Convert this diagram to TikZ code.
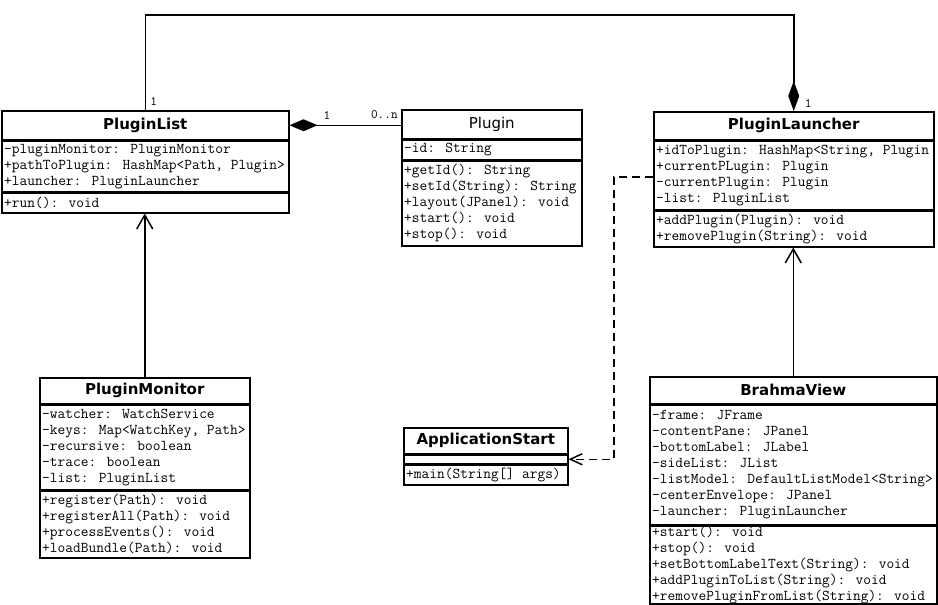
\documentclass[tikz,border=0pt]{standalone}
\usepackage{fontspec}
\setmainfont{DejaVu Sans}
\usetikzlibrary{arrows.meta}

\begin{document}
\begin{tikzpicture}[x=1pt, y=-1pt,
        every text node part/.style={align=left},
        box/.style={draw, line width=1.5pt, inner sep=0pt, anchor=north west},
        title/.style={font=\fontsize{15}{17}\selectfont\bfseries},
        rows/.style={anchor=west, inner sep=0pt, font=\fontsize{15}{16}\selectfont\ttfamily},
        mult/.style={inner sep=0pt, font=\fontsize{13}{13}\selectfont\ttfamily},
        link/.style={line width=1.5pt}]
    \useasboundingbox (0,0) rectangle (938,605);

    % PluginList
    \node[box, title, minimum width=287pt, minimum height=29pt] (pl) at (1,110) {PluginList};
    \node[box, minimum width=287pt, minimum height=50pt] (pl-a) at (pl.south west) {};
    \node[box, minimum width=287pt, minimum height=20pt] (pl-m) at (pl-a.south west) {};
    \node[rows] (pl-at) at ([xshift=3pt]pl-a.west) {-pluginMonitor: PluginMonitor\\+pathToPlugin: HashMap<Path, Plugin>\\+launcher: PluginLauncher};
    \node[rows] (pl-mt) at ([xshift=3pt]pl-m.west) {+run(): void};

    % Plugin
    \node[box, font=\fontsize{15}{17}\selectfont, minimum width=180pt, minimum height=29pt] (pg) at (401,109) {Plugin};
    \node[box, minimum width=180pt, minimum height=19pt] (pg-a) at (pg.south west) {};
    \node[box, minimum width=180pt, minimum height=85pt] (pg-m) at (pg-a.south west) {};
    \node[rows] (pg-at) at ([xshift=3pt]pg-a.west) {-id: String};
    \node[rows] (pg-mt) at ([xshift=3pt]pg-m.west) {+getId(): String\\+setId(String): String\\+layout(JPanel): void\\+start(): void\\+stop(): void};

    % PluginLauncher
    \node[box, title, minimum width=280pt, minimum height=28pt] (la) at (653,111) {PluginLauncher};
    \node[box, minimum width=280pt, minimum height=68pt] (la-a) at (la.south west) {};
    \node[box, minimum width=280pt, minimum height=36pt] (la-m) at (la-a.south west) {};
    \node[rows] (la-at) at ([xshift=3pt]la-a.west) {+idToPlugin: HashMap<String, Plugin\\+currentPLugin: Plugin\\-currentPlugin: Plugin\\-list: PluginList};
    \node[rows] (la-mt) at ([xshift=3pt]la-m.west) {+addPlugin(Plugin): void\\+removePlugin(String): void};

    % PluginMonitor
    \node[box, title, minimum width=210pt, minimum height=26pt] (pm) at (39,377) {PluginMonitor};
    \node[box, minimum width=210pt, minimum height=84pt] (pm-a) at (pm.south west) {};
    \node[box, minimum width=210pt, minimum height=67pt] (pm-m) at (pm-a.south west) {};
    \node[rows] (pm-at) at ([xshift=3pt]pm-a.west) {-watcher: WatchService\\-keys: Map<WatchKey, Path>\\-recursive: boolean\\-trace: boolean\\-list: PluginList};
    \node[rows] (pm-mt) at ([xshift=3pt]pm-m.west) {+register(Path): void\\+registerAll(Path): void\\+processEvents(): void\\+loadBundle(Path): void};

    % ApplicationStart
    \node[box, title, minimum width=164pt, minimum height=26pt] (as) at (403,427) {ApplicationStart};
    \node[box, minimum width=164pt, minimum height=8pt] (as-a) at (as.south west) {};
    \node[box, minimum width=164pt, minimum height=20pt] (as-m) at (as-a.south west) {};
    \node[rows] (as-mt) at ([xshift=3pt]as-m.west) {+main(String[] args)};

    % BrahmaView
    \node[box, title, minimum width=287pt, minimum height=27pt] (bv) at (649,376) {BrahmaView};
    \node[box, minimum width=287pt, minimum height=119pt] (bv-a) at (bv.south west) {};
    \node[box, minimum width=287pt, minimum height=78pt] (bv-m) at (bv-a.south west) {};
    \node[rows] (bv-at) at ([xshift=3pt]bv-a.west) {-frame: JFrame\\-contentPane: JPanel\\-bottomLabel: JLabel\\-sideList: JList\\-listModel: DefaultListModel<String>\\-centerEnvelope: JPanel\\-launcher: PluginLauncher};
    \node[rows] (bv-mt) at ([xshift=3pt]bv-m.west) {+start(): void\\+stop(): void\\+setBottomLabelText(String): void\\+addPluginToList(String): void\\+removePluginFromList(String): void};

    % connectors
    \coordinate (top) at (0,15);
    \coordinate (dep) at (614,177);
    \draw[link, -{Diamond[length=30pt, width=11pt]}] (pl.north) -- (pl.north |- top) -| (la.north);
    \draw[link, {Diamond[length=28pt, width=12pt]}-] (pl.east) -- (pl.east -| pg.west);
    \draw[link, -{Straight Barb[length=14pt, width=16pt]}] (pm.north) -- (pm.north |- pl-m.south);
    \draw[link, -{Straight Barb[length=14pt, width=16pt]}] (bv.north) -- (bv.north |- la-m.south);
    \draw[link, dash pattern=on 8pt off 5pt, -{Straight Barb[length=12pt, width=11pt]}] (la-a.west |- dep) -- (dep) |- (as-a.east);

    % multiplicities
    \node[mult, anchor=south west] (pl-n) at ([xshift=5pt, yshift=4pt]pl.north) {1};
    \node[mult, anchor=south west] (la-n) at ([xshift=11pt, yshift=3pt]la.north) {1};
    \node[mult, anchor=south west] (pl-c) at ([xshift=34pt, yshift=6pt]pl.east) {1};
    \node[mult, anchor=south east] (pg-c) at ([xshift=-3pt, yshift=5pt]pg.west) {0..n};
\end{tikzpicture}
\end{document}
